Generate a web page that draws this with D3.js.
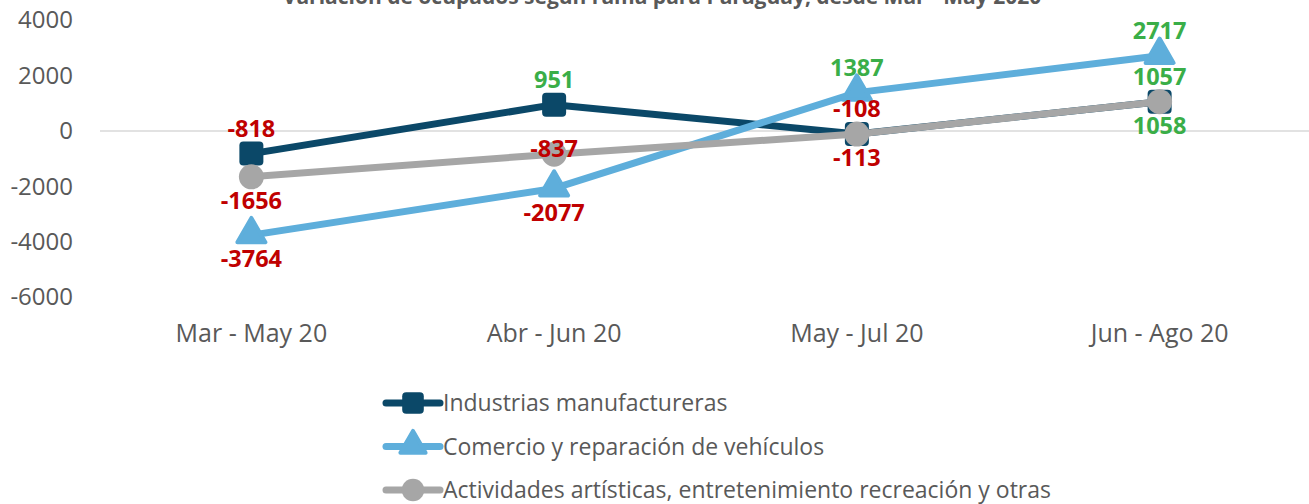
<!DOCTYPE html>
<html>
<head>
<meta charset="utf-8">
<script src="https://cdn.jsdelivr.net/npm/d3@7"></script>
<style>
  body { margin: 0; background: #fff; }
  svg { display: block; font-family: "Open Sans", sans-serif; }
</style>
</head>
<body>
<div id="chart"></div>
<script>
// data
var categories = ["Mar - May 20", "Abr - Jun 20", "May - Jul 20", "Jun - Ago 20"];
var industrias = [-818, 951, -108, 1057];
var comercio = [-3764, -2077, 1387, 2717];
var actividades = [-1656, -837, -113, 1058];
var yTicks = [4000, 2000, 0, -2000, -4000, -6000];
var titleText = "Variación de ocupados según rama para Paraguay, desde Mar - May 2020";

var series = [
  {name: "Industrias manufactureras", values: industrias, color: "#0b4868", shape: "square",
   labelPos: function(v, i) { return "above"; }},
  {name: "Comercio y reparación de vehículos", values: comercio, color: "#5eaedb", shape: "triangle",
   labelPos: function(v, i) { return v < 0 ? "below" : "above"; }},
  {name: "Actividades artísticas, entretenimiento recreación y otras", values: actividades, color: "#a6a6a6", shape: "circle",
   labelPos: function(v, i) { return i == 1 ? "center" : "below"; }}
];

var width = 1309, height = 504;
var margin = {top: 20, left: 100, right: 0};
var fmt = function(d) { return String(d); };

var svg = d3.select("#chart").append("svg")
    .attr("width", width)
    .attr("height", height);

// title (clipped at the top in the original)
svg.append("text")
    .attr("x", 662)
    .attr("y", 4)
    .attr("text-anchor", "middle")
    .attr("font-size", 21)
    .attr("font-weight", "bold")
    .attr("fill", "#595959")
    .text(titleText);

var x = d3.scaleBand()
    .domain(categories)
    .range([margin.left, width + 2]);

var y = d3.scaleLinear()
    .domain([-6000, 4000])
    .range([297, 20.3]);

// zero line
svg.append("line")
    .attr("x1", margin.left)
    .attr("x2", width)
    .attr("y1", y(0))
    .attr("y2", y(0))
    .attr("stroke", "#d9d9d9")
    .attr("stroke-width", 1.5);

// y axis labels
var yAxis = d3.axisLeft(y).tickValues(yTicks).tickSize(0).tickPadding(0).tickFormat(fmt);
var gy = svg.append("g")
    .attr("transform", "translate(73,0)")
    .call(yAxis);
gy.select(".domain").remove();
gy.selectAll("text")
    .attr("font-family", "Open Sans, sans-serif")
    .attr("font-size", 24)
    .attr("fill", "#595959");

// x axis labels
var xAxis = d3.axisBottom(x).tickSize(0).tickPadding(0);
var gx = svg.append("g")
    .attr("transform", "translate(0,324)")
    .call(xAxis);
gx.select(".domain").remove();
gx.selectAll("text")
    .attr("font-family", "Open Sans, sans-serif")
    .attr("font-size", 25)
    .attr("fill", "#595959");

var cx = function(i) { return x(categories[i]) + x.bandwidth() / 2; };

var line = d3.line()
    .x(function(d, i) { return cx(i); })
    .y(function(d) { return y(d); });

function drawMarker(g, shape, color, px, py, sc) {
  sc = sc || 1;
  if (shape == "square") {
    g.append("rect")
      .attr("x", px - 12 * sc).attr("y", py - 12 * sc)
      .attr("width", 24 * sc).attr("height", 24 * sc)
      .attr("rx", 4)
      .attr("fill", color);
  } else if (shape == "triangle") {
    g.append("path")
      .attr("d", d3.symbol().type(d3.symbolTriangle).size(340 * sc * sc)())
      .attr("transform", "translate(" + px + "," + (py - 1) + ")")
      .attr("fill", color)
      .attr("stroke", color)
      .attr("stroke-width", 4)
      .attr("stroke-linejoin", "round");
  } else {
    g.append("circle")
      .attr("cx", px).attr("cy", py)
      .attr("r", 12.5 * sc)
      .attr("fill", color);
  }
}

series.forEach(function(s) {
  var g = svg.append("g");
  g.append("path")
    .datum(s.values)
    .attr("d", line)
    .attr("fill", "none")
    .attr("stroke", s.color)
    .attr("stroke-width", 7)
    .attr("stroke-linejoin", "round");
  s.values.forEach(function(v, i) {
    drawMarker(g, s.shape, s.color, cx(i), y(v));
  });
});

// data labels
series.forEach(function(s) {
  s.values.forEach(function(v, i) {
    var pos = s.labelPos(v, i);
    var dy = pos == "above" ? -25 : (pos == "below" ? 24 : -5);
    svg.append("text")
      .attr("x", cx(i))
      .attr("y", y(v) + dy)
      .attr("dy", "0.35em")
      .attr("text-anchor", "middle")
      .attr("font-size", 23.5)
      .attr("font-weight", "bold")
      .attr("fill", v < 0 ? "#c00000" : "#3aae48")
      .text(fmt(v));
  });
});

// legend
var legend = svg.append("g");
series.forEach(function(s, i) {
  var ly = 403 + i * 43.5;
  var lg = legend.append("g");
  lg.append("line")
    .attr("x1", 386).attr("x2", 440)
    .attr("y1", ly).attr("y2", ly)
    .attr("stroke", s.color)
    .attr("stroke-width", 7)
    .attr("stroke-linecap", "round");
  drawMarker(lg, s.shape, s.color, 413, ly, 0.9);
  lg.append("text")
    .attr("x", 443)
    .attr("y", ly)
    .attr("dy", "0.35em")
    .attr("font-size", 23)
    .attr("fill", "#595959")
    .text(s.name);
});
</script>
</body>
</html>
